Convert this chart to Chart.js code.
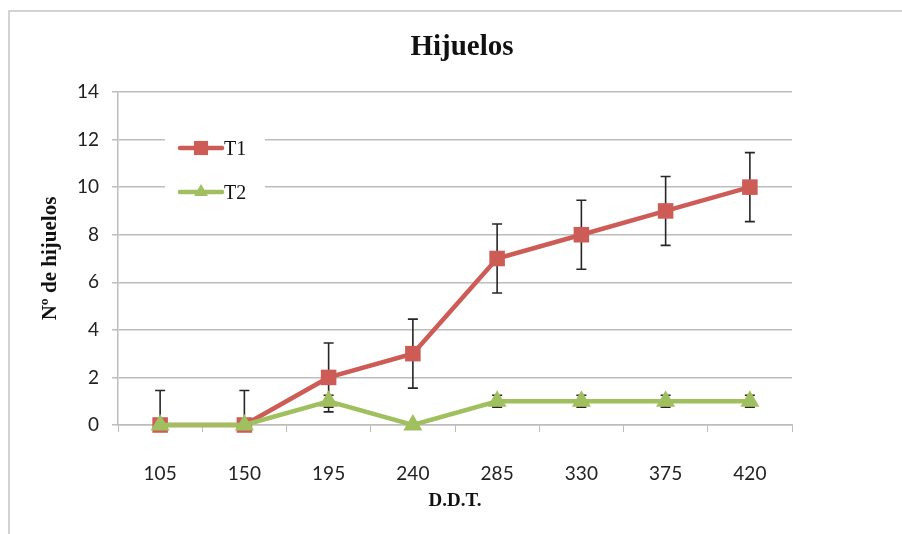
<!DOCTYPE html>
<html lang="es">
<head>
<meta charset="UTF-8">
<title>Hijuelos</title>
<script src="https://cdn.jsdelivr.net/npm/chart.js@4.4.1/dist/chart.umd.min.js"></script>
<style>
  html, body { margin: 0; padding: 0; background: #fff; }
  #wrap { width: 902px; height: 534px; }
</style>
</head>
<body>
<div id="wrap"><canvas id="myChart" width="902" height="534"></canvas></div>

<script>
  // data
  const ddt = ["105", "150", "195", "240", "285", "330", "375", "420"];
  const seriesNames = ["T1", "T2"];
  const t1 = [0, 0, 2, 3, 7, 8, 9, 10];
  const t1Err = [1.45, 1.45, 1.45, 1.45, 1.45, 1.45, 1.45, 1.45];
  const t2 = [0, 0, 1, 0, 1, 1, 1, 1];
  const t2Err = [0, 0, 0.25, 0, 0.25, 0.25, 0.25, 0.25];
  const yTicks = [0, 2, 4, 6, 8, 10, 12, 14];
  const chartTitle = "Hijuelos";

  const red = "#cd5c56";
  const green = "#a0bf5e";
  const gridColor = "#bdbdbd";
  const sansFont = "Lato";
  const serifFont = "'Liberation Serif'";

  // outer frame (right and bottom edges are cut off) and the chart title
  const framePlugin = {
    id: "frame",
    beforeDraw(chart) {
      const ctx = chart.ctx;
      ctx.save();
      ctx.fillStyle = "#fff";
      ctx.fillRect(0, 0, chart.width, chart.height);
      ctx.strokeStyle = "#c6c6c6";
      ctx.lineWidth = 1.5;
      ctx.beginPath();
      ctx.moveTo(9, chart.height + 5);
      ctx.lineTo(9, 11);
      ctx.lineTo(chart.width + 5, 11);
      ctx.stroke();

      ctx.fillStyle = "#111";
      ctx.font = "bold 29px " + serifFont;
      ctx.textAlign = "center";
      ctx.textBaseline = "middle";
      ctx.fillText(chartTitle, 462, 48);
      ctx.restore();
    }
  };

  // vertical error bars with caps, drawn behind the markers
  const errorBarPlugin = {
    id: "errorBars",
    beforeDatasetsDraw(chart) {
      const ctx = chart.ctx;
      const area = chart.chartArea;
      const yScale = chart.scales.y;
      const errs = [t1Err, t2Err];
      ctx.save();
      ctx.beginPath();
      ctx.rect(area.left, area.top - 2, area.right - area.left, area.bottom - area.top + 2);
      ctx.clip();
      ctx.strokeStyle = "#262626";
      ctx.lineWidth = 1.6;
      chart.data.datasets.forEach((ds, i) => {
        const meta = chart.getDatasetMeta(i);
        meta.data.forEach((pt, j) => {
          const e = errs[i][j];
          if (!e) return;
          const v = ds.data[j];
          const yTop = yScale.getPixelForValue(v + e);
          const yBot = yScale.getPixelForValue(v - e);
          const x = pt.x;
          ctx.beginPath();
          ctx.moveTo(x, yTop);
          ctx.lineTo(x, yBot);
          ctx.moveTo(x - 5, yTop);
          ctx.lineTo(x + 5, yTop);
          ctx.moveTo(x - 5, yBot);
          ctx.lineTo(x + 5, yBot);
          ctx.stroke();
        });
      });
      ctx.restore();
    }
  };

  // legend box inside the plot area, top-left
  const legendPlugin = {
    id: "insideLegend",
    afterDraw(chart) {
      const ctx = chart.ctx;
      ctx.save();
      ctx.fillStyle = "#fff";
      ctx.fillRect(165, 128, 100, 80);
      chart.data.datasets.forEach((ds, i) => {
        const y = 148 + i * 44;
        ctx.strokeStyle = ds.borderColor;
        ctx.lineWidth = 4.5;
        ctx.lineCap = "round";
        ctx.beginPath();
        ctx.moveTo(180, y);
        ctx.lineTo(222, y);
        ctx.stroke();
        ctx.fillStyle = ds.borderColor;
        Chart.helpers.drawPoint(ctx, {
          pointStyle: ds.pointStyle,
          rotation: 0,
          borderWidth: 0,
          radius: i === 0 ? 10 : 8
        }, 201, y);
        ctx.fillStyle = "#111";
        ctx.font = "20px " + serifFont;
        ctx.textBaseline = "middle";
        ctx.textAlign = "left";
        ctx.fillText(seriesNames[i], 224, y + 2);
      });
      ctx.restore();
    }
  };

  const ctx = document.getElementById("myChart").getContext("2d");
  const chart = new Chart(ctx, {
    type: "line",
    data: {
      labels: ddt,
      datasets: [{
        label: seriesNames[0],
        data: t1,
        borderColor: red,
        backgroundColor: red,
        borderWidth: 4.5,
        pointStyle: "rect",
        pointRadius: 11,
        pointBorderWidth: 0,
        tension: 0,
        clip: false,
        order: 1
      }, {
        label: seriesNames[1],
        data: t2,
        borderColor: green,
        backgroundColor: green,
        borderWidth: 4.5,
        pointStyle: "triangle",
        pointRadius: 11,
        pointBorderWidth: 0,
        tension: 0,
        clip: false,
        order: 0
      }]
    },
    options: {
      responsive: false,
      animation: false,
      devicePixelRatio: 1,
      layout: { padding: { top: 92, right: 110, bottom: 0, left: 0 } },
      plugins: {
        legend: { display: false },
        tooltip: { enabled: false },
        title: { display: false }
      },
      scales: {
        x: {
          offset: true,
          grid: {
            offset: true,
            drawOnChartArea: false,
            drawTicks: true,
            tickLength: 7,
            color: gridColor
          },
          border: { color: gridColor, width: 1.5 },
          ticks: {
            color: "#222",
            padding: 30,
            font: { family: sansFont, size: 19 }
          },
          title: {
            display: true,
            text: "D.D.T.",
            color: "#111",
            font: { family: serifFont, size: 19, weight: "bold" },
            padding: { top: 0, bottom: 22 }
          },
          afterFit(scale) { scale.height = 109; }
        },
        y: {
          min: 0,
          max: 14,
          afterBuildTicks(scale) { scale.ticks = yTicks.map(v => ({ value: v })); },
          grid: {
            color: gridColor,
            lineWidth: 1.5,
            tickLength: 6
          },
          border: { color: gridColor, width: 1.5 },
          ticks: {
            color: "#222",
            padding: 13,
            font: { family: sansFont, size: 19 }
          },
          title: {
            display: true,
            text: "Nº de hijuelos",
            color: "#111",
            font: { family: serifFont, size: 21, weight: "bold" },
            padding: { top: 38, bottom: 0 }
          },
          afterFit(scale) { scale.width = 118; }
        }
      }
    },
    plugins: [framePlugin, errorBarPlugin, legendPlugin]
  });
</script>
</body>
</html>
